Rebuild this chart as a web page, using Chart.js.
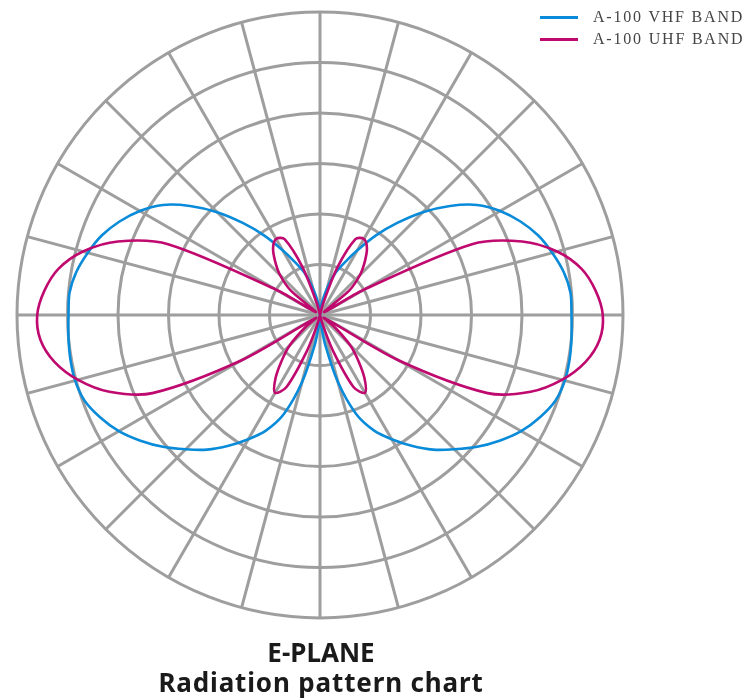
<!DOCTYPE html>
<html>
<head>
<meta charset="utf-8">
<script src="https://cdn.jsdelivr.net/npm/chart.js@4.4.0/dist/chart.umd.min.js"></script>
<style>
  body { margin: 0; background: #fff; }
  #wrap { position: relative; width: 753px; height: 700px; }
  #legend { position: absolute; left: 540px; top: 6px; font-family: "Liberation Serif", "DejaVu Serif", serif; font-size: 16px; letter-spacing: 1.8px; color: #444; }
  #legend .item { display: flex; align-items: center; height: 22px; white-space: nowrap; }
  #legend .sw { width: 38px; height: 3px; margin-right: 15px; }
  .title { position: absolute; left: 0; width: 642px; text-align: center; font-family: "Noto Sans", "DejaVu Sans", sans-serif; font-weight: bold; color: #1a1a1a; font-size: 26px; line-height: 26px; }
</style>
</head>
<body>
<div id="wrap">
  <canvas id="polar" width="753" height="700"></canvas>
  <div id="legend"></div>
  <div class="title" id="t1" style="top:639px;"></div>
  <div class="title" id="t2" style="top:669px;letter-spacing:0.85px;"></div>
</div>
<script>
// ---------- DATA ----------
// angles clockwise from top, every 5 degrees
const angles = [];
for (let a = 0; a < 360; a += 5) angles.push(a + '°');

const seriesNames = ['A-100 VHF BAND', 'A-100 UHF BAND'];
const seriesColors = ['#0a8bd9', '#c0096f'];

// relative field strength (outer ring = 30)
const vhf = [
  0, 0.6, 1.5, 2.8, 4.4, 5.7, 7.4, 9.6, 11.9, 14.4, 16.8, 19.0, 20.6, 21.9, 23.0, 23.8, 24.5, 24.9,
  24.9,
  25.0, 25.1, 25.1, 24.8, 24.0, 23.0, 21.7, 20.3, 18.8, 17.4, 15.8, 14.2, 12.6, 10.4, 6.9, 3.0, 0.8,
  0,
  0.8, 3.0, 6.9, 10.4, 12.6, 14.2, 15.8, 17.4, 18.8, 20.3, 21.7, 23.0, 24.0, 24.8, 25.1, 25.1, 25.0,
  24.9,
  24.9, 24.5, 23.8, 23.0, 21.9, 20.6, 19.0, 16.8, 14.4, 11.9, 9.6, 7.4, 5.7, 4.4, 2.8, 1.5, 0.6
];

const uhf = [
  0, 0, 0, 1.2, 5.0, 8.3, 8.7, 8.1, 6.9, 5.6, 3.8, 0.5, 5.0, 16.6, 21.3, 24.3, 26.3, 27.4,
  28.0,
  27.8, 26.7, 24.8, 22.2, 18.3, 8.9, 0.5, 2.0, 4.2, 5.9, 7.7, 8.9, 7.9, 3.8, 0.8, 0, 0,
  0,
  0, 0, 0.8, 3.8, 7.9, 8.9, 7.7, 5.9, 4.2, 2.0, 0.5, 8.9, 18.3, 22.2, 24.8, 26.7, 27.8,
  28.0,
  27.4, 26.3, 24.3, 21.3, 16.6, 5.0, 0.5, 3.8, 5.6, 6.9, 8.1, 8.7, 8.3, 5.0, 1.2, 0, 0
];

const titleLines = ['E-PLANE', 'Radiation pattern chart'];

// ---------- CHART ----------
const grey = '#9e9e9e';

new Chart(document.getElementById('polar'), {
  type: 'radar',
  data: {
    labels: angles,
    datasets: [
      { label: seriesNames[0], data: vhf, borderColor: seriesColors[0], borderWidth: 2.6, fill: false, order: 1 },
      { label: seriesNames[1], data: uhf, borderColor: seriesColors[1], borderWidth: 2.6, fill: false, order: 0 }
    ]
  },
  options: {
    responsive: false,
    animation: false,
    layout: { padding: { left: 17, right: 130, top: 12, bottom: 82 } },
    plugins: { legend: { display: false }, tooltip: { enabled: false } },
    elements: { point: { radius: 0 }, line: { tension: 0.3 } },
    scales: {
      r: {
        min: 0, max: 30,
        ticks: { display: false, stepSize: 5 },
        pointLabels: { display: false },
        grid: { circular: true, color: grey, lineWidth: 3 },
        angleLines: { color: c => (c.index % 3 === 0 ? grey : 'rgba(0,0,0,0)'), lineWidth: 3 }
      }
    }
  }
});

// legend + titles
const legend = document.getElementById('legend');
seriesNames.forEach((n, i) => {
  const d = document.createElement('div');
  d.className = 'item';
  d.innerHTML = `<span class="sw" style="background:${seriesColors[i]}"></span><span>${n}</span>`;
  legend.appendChild(d);
});
document.getElementById('t1').textContent = titleLines[0];
document.getElementById('t2').textContent = titleLines[1];
</script>
</body>
</html>
